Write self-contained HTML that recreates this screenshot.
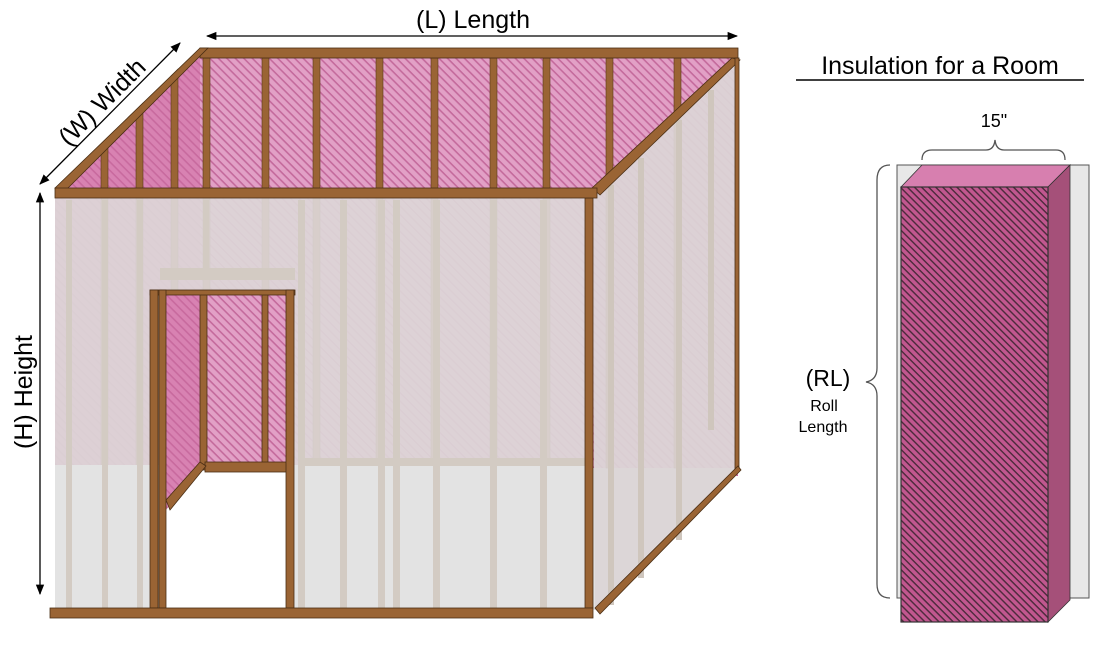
<!DOCTYPE html>
<html><head><meta charset="utf-8"><style>
html,body{margin:0;padding:0;background:#fff;}
svg{display:block;font-family:"Liberation Sans",sans-serif;}
</style></head><body>
<svg width="1099" height="645" viewBox="0 0 1099 645" xmlns="http://www.w3.org/2000/svg">
<defs>
<pattern id="h1" patternUnits="userSpaceOnUse" width="6" height="6" patternTransform="rotate(45)">
<rect width="6" height="6" fill="#e2a0c6"/><rect width="6" height="1.6" fill="#c46a9c"/></pattern>
<pattern id="h2" patternUnits="userSpaceOnUse" width="6" height="6" patternTransform="rotate(45)">
<rect width="6" height="6" fill="#d882b2"/><rect width="6" height="1.6" fill="#c86a9e"/></pattern>
<pattern id="h3" patternUnits="userSpaceOnUse" width="5" height="5" patternTransform="rotate(45)">
<rect width="5" height="5" fill="#c1578f"/><rect width="5" height="1.4" fill="#4a2a3a"/></pattern>
<marker id="ar" viewBox="0 0 10 10" refX="9" refY="5" markerWidth="8" markerHeight="8" orient="auto-start-reverse"><path d="M0,1 L10,5 L0,9 z" fill="#000"/></marker>
</defs>

<!-- back wall -->
<rect x="200" y="56" width="538" height="420" fill="url(#h1)"/>
<!-- left wall -->
<polygon points="55,195 200,56 200,470 55,610" fill="url(#h2)"/>
<!-- floor -->
<polygon points="55,610 200,468 738,468 595,610" fill="#e4e4e4"/>
<!-- back studs -->
<g fill="#9a6434" stroke="#5a3a1a" stroke-width="0.6">
<rect x="203" y="58" width="7" height="410"/><rect x="262" y="58" width="7" height="410"/>
<rect x="313" y="58" width="7" height="410"/><rect x="376" y="58" width="7" height="410"/>
<rect x="431" y="58" width="7" height="410"/><rect x="490" y="58" width="7" height="410"/>
<rect x="543" y="58" width="7" height="410"/><rect x="606" y="58" width="7" height="410"/>
<rect x="674" y="58" width="7" height="410"/>
<rect x="200" y="462" width="90" height="9"/>
<polygon points="101,144 108,137 108,560 101,567"/><polygon points="136,110 143,103 143,525 136,532"/>
<polygon points="171,76 178,69 178,492 171,499"/>
</g>
<!-- right wall -->
<polygon points="592,198 738,58 738,470 595,610" fill="#dcd5d6" fill-opacity="0.93"/>
<g fill="#cfc6bd"><rect x="608" y="185" width="6" height="420"/><rect x="638" y="158" width="6" height="420"/><rect x="676" y="120" width="6" height="420"/><rect x="708" y="90" width="6" height="340"/></g>
<!-- front wall -->
<rect x="55" y="198" width="537" height="410" fill="#ddd6d7" fill-opacity="0.93"/>
<rect x="55" y="465" width="537" height="143" fill="#e3e3e3"/>
<g fill="#d3cbc3">
<rect x="66" y="200" width="6" height="408"/><rect x="102" y="200" width="6" height="408"/>
<rect x="137" y="200" width="6" height="408"/><rect x="203" y="200" width="6" height="70"/>
<rect x="298" y="200" width="7" height="408"/><rect x="340" y="200" width="7" height="408"/>
<rect x="378" y="200" width="7" height="408"/><rect x="393" y="200" width="7" height="408"/>
<rect x="433" y="200" width="7" height="408"/><rect x="490" y="200" width="7" height="408"/>
<rect x="540" y="200" width="7" height="408"/>
<rect x="160" y="268" width="135" height="12"/>
<rect x="300" y="458" width="290" height="8"/>
</g>
<!-- door opening -->
<rect x="166" y="292" width="123" height="178" fill="url(#h1)"/>
<rect x="166" y="292" width="34" height="180" fill="url(#h2)"/>
<polygon points="166,470 200,470 166,510" fill="url(#h2)"/>
<polygon points="166,510 200,470 289,470 289,608 166,608" fill="#fff"/>
<g fill="#9a6434" stroke="#4a2e14" stroke-width="0.8">
<rect x="200" y="292" width="7" height="178"/><rect x="262" y="292" width="6" height="178"/>
<rect x="205" y="462" width="85" height="10"/>
<polygon points="166,500 200,462 206,466 170,510"/>
<rect x="150" y="290" width="145" height="5"/>
<rect x="150" y="290" width="8" height="318"/><rect x="159" y="290" width="7" height="318"/>
<rect x="286" y="290" width="8" height="318"/>
<rect x="585" y="198" width="8" height="410"/>
<rect x="200" y="48" width="538" height="10"/>
<polygon points="55,188 200,48 208,48 66,190"/>
<polygon points="592,188 732,58 740,60 600,195"/>
<rect x="55" y="188" width="542" height="10"/>
<rect x="735" y="58" width="4" height="412"/>
<rect x="50" y="608" width="543" height="10"/>
<polygon points="595,608 738,466 741,470 600,614"/>
</g>
<!-- arrows -->
<g stroke="#000" stroke-width="1.3" fill="none">
<line x1="207" y1="36" x2="737" y2="36" marker-start="url(#ar)" marker-end="url(#ar)"/>
<line x1="180" y1="43" x2="40" y2="184" marker-start="url(#ar)" marker-end="url(#ar)"/>
<line x1="40" y1="193" x2="40" y2="594" marker-start="url(#ar)" marker-end="url(#ar)"/>
</g>
<text x="473" y="28" font-size="25" text-anchor="middle">(L) Length</text>
<text transform="translate(108,108) rotate(-45)" font-size="25" text-anchor="middle">(W) Width</text>
<text transform="translate(32,392) rotate(-90)" font-size="25" text-anchor="middle">(H) Height</text>

<!-- right panel -->
<text x="940" y="74" font-size="25" text-anchor="middle">Insulation for a Room</text>
<line x1="796" y1="80" x2="1084" y2="80" stroke="#000" stroke-width="1.6"/>
<rect x="897" y="165" width="192" height="433" fill="#e8e8e8" stroke="#555" stroke-width="1"/>
<polygon points="901,187 922,165 1070,165 1048,187" fill="#d77faf" stroke="#333" stroke-width="0.8"/>
<polygon points="1048,187 1070,165 1070,600 1048,622" fill="#a55079" stroke="#333" stroke-width="0.8"/>
<rect x="901" y="187" width="147" height="435" fill="url(#h3)" stroke="#333" stroke-width="1.2"/>
<path d="M922,160 Q922,150 932,150 L986,150 Q994,150 995,140 Q996,150 1004,150 L1056,150 Q1065,150 1065,160" fill="none" stroke="#555" stroke-width="1.3"/>
<text x="994" y="127" font-size="18" text-anchor="middle">15"</text>
<path d="M890,165 Q877,165 877,180 L877,368 Q877,380 866,382 Q877,384 877,396 L877,584 Q877,598 890,598" fill="none" stroke="#555" stroke-width="1.3"/>
<text x="828" y="386" font-size="23" text-anchor="middle">(RL)</text>
<text x="824" y="411" font-size="16" text-anchor="middle">Roll</text>
<text x="823" y="432" font-size="16" text-anchor="middle">Length</text>
</svg>
</body></html>
